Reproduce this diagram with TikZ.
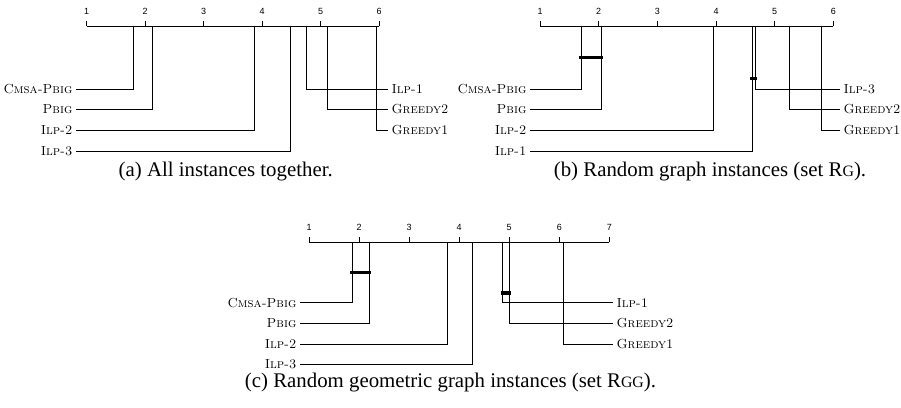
\documentclass[tikz,border=0pt]{standalone}
\usepackage{fontspec}
\newfontfamily\capfont{Liberation Serif}
\newfontfamily\numfont{Liberation Sans}
\usetikzlibrary{positioning}

\begin{document}
\begin{tikzpicture}[
    x=0.48pt, y=-0.48pt,
    every node/.style={inner sep=1.5pt},
    axis/.style    ={draw=black, line width=0.45pt},
    rankline/.style={draw=black, line width=0.45pt},
    clique/.style  ={draw=black, line width=1.5pt},
    ticklbl/.style ={font=\numfont\fontsize{4.3}{5}\selectfont, inner sep=0pt},
    method/.style  ={font=\fontsize{6.3}{7.5}\selectfont, inner sep=1.5pt},
    caption/.style ={font=\capfont\fontsize{10}{12}\selectfont},
  ]
  \useasboundingbox (0,0) rectangle (901,407);

  %% --- (a) all instances -------------------------------------------------
  \def\xo{86.7}   % rank 1
  \def\u{58.5}    % one rank
  \def\ya{26}     % axis row
  \draw[axis] (\xo,\ya) -- ({\xo+5*\u},\ya);
  \foreach \t in {1,...,6}
    \draw[axis] ({\xo+(\t-1)*\u},\ya) -- ++(0,-5)
      node[ticklbl, above=3pt] (a-t\t) {\t};

  \foreach \id/\txt/\r/\y in {cmsa/Cmsa-Pbig/1.80/89, pbig/Pbig/2.12/109.5,
                              ilptwo/Ilp-2/3.87/130, ilpthree/Ilp-3/4.48/151}{
    \node[method, anchor=east] (a-\id) at (76,\y) {\textsc{\txt}};
    \coordinate (a-\id-ax) at ({\xo+(\r-1)*\u},\ya);
    \draw[rankline] (a-\id.east) -| (a-\id-ax);
  }
  \foreach \id/\txt/\r/\y in {ilpone/Ilp-1/4.75/89, grtwo/Greedy2/5.12/109.5,
                              grone/Greedy1/5.96/130}{
    \node[method, anchor=west] (a-\id) at (388,\y) {\textsc{\txt}};
    \coordinate (a-\id-ax) at ({\xo+(\r-1)*\u},\ya);
    \draw[rankline] (a-\id-ax) |- (a-\id.west);
  }
  \node[caption] (cap-a) at (225.7,171.7) {(a) All instances together.};

  %% --- (b) random graphs -------------------------------------------------
  \def\xo{540}
  \def\u{58.67}
  \def\ya{26}
  \draw[axis] (\xo,\ya) -- ({\xo+5*\u},\ya);
  \foreach \t in {1,...,6}
    \draw[axis] ({\xo+(\t-1)*\u},\ya) -- ++(0,-5)
      node[ticklbl, above=3pt] (b-t\t) {\t};

  \foreach \id/\txt/\r/\y in {cmsa/Cmsa-Pbig/1.71/89, pbig/Pbig/2.04/109.5,
                              ilptwo/Ilp-2/3.95/130, ilpone/Ilp-1/4.62/151}{
    \node[method, anchor=east] (b-\id) at (530,\y) {\textsc{\txt}};
    \coordinate (b-\id-ax) at ({\xo+(\r-1)*\u},\ya);
    \draw[rankline] (b-\id.east) -| (b-\id-ax);
  }
  \foreach \id/\txt/\r/\y in {ilpthree/Ilp-3/4.67/89, grtwo/Greedy2/5.25/109.5,
                              grone/Greedy1/5.80/130}{
    \node[method, anchor=west] (b-\id) at (840,\y) {\textsc{\txt}};
    \coordinate (b-\id-ax) at ({\xo+(\r-1)*\u},\ya);
    \draw[rankline] (b-\id-ax) |- (b-\id.west);
  }
  % cliques (no significant difference)
  \draw[clique] (579.3,57.3) -- (602.7,57.3);
  \draw[clique] (750,78.3) -- (757.3,78.3);
  \node[caption] (cap-b) at (710,171.7)
    {(b) Random graph instances (set R{\fontsize{7.6}{9}\selectfont G}).};

  %% --- (c) random geometric graphs ---------------------------------------
  \def\xo{309}
  \def\u{50.05}
  \def\ya{242.3}
  \draw[axis] (\xo,\ya) -- ({\xo+6*\u},\ya);
  \foreach \t in {1,...,7}
    \draw[axis] ({\xo+(\t-1)*\u},\ya) -- ++(0,-5)
      node[ticklbl, above=3pt] (c-t\t) {\t};

  \foreach \id/\txt/\r/\y in {cmsa/Cmsa-Pbig/1.87/302.7, pbig/Pbig/2.21/323.3,
                              ilptwo/Ilp-2/3.76/344, ilpthree/Ilp-3/4.27/364}{
    \node[method, anchor=east] (c-\id) at (300,\y) {\textsc{\txt}};
    \coordinate (c-\id-ax) at ({\xo+(\r-1)*\u},\ya);
    \draw[rankline] (c-\id.east) -| (c-\id-ax);
  }
  \foreach \id/\txt/\r/\y in {ilpone/Ilp-1/4.86/302.7, grtwo/Greedy2/5.00/323.3,
                              grone/Greedy1/6.08/344}{
    \node[method, anchor=west] (c-\id) at (613,\y) {\textsc{\txt}};
    \coordinate (c-\id-ax) at ({\xo+(\r-1)*\u},\ya);
    \draw[rankline] (c-\id-ax) |- (c-\id.west);
  }
  % cliques
  \draw[clique] (350,272.7) -- (371.3,272.7);
  \draw[clique] (500.7,293) -- (510.7,293);
  \node[caption] (cap-c) at (450.5,383)
    {(c) Random geometric graph instances (set R{\fontsize{7.6}{9}\selectfont GG}).};

\end{tikzpicture}
\end{document}
